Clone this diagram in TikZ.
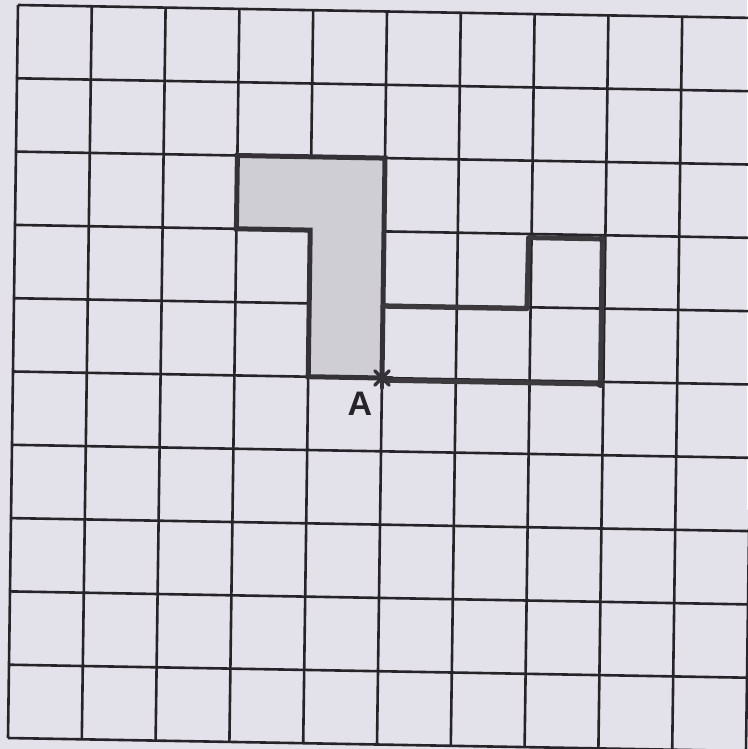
\documentclass[tikz,border=0pt]{standalone}
\usepackage{fontspec}
\setmainfont{Liberation Sans}
\definecolor{paper}{RGB}{227,225,233}
\definecolor{gridc}{RGB}{38,36,40}
\definecolor{lgreyfill}{RGB}{208,206,213}
\definecolor{pen}{RGB}{52,50,54}
\tikzset{
  gridline/.style={draw=gridc, line width=2.6pt},
  thickline/.style={draw=pen, line width=5pt, line join=miter, line cap=rect},
  handline/.style={draw=pen!90!gray, line width=5pt, line join=round, line cap=round},
  lab/.style={font=\bfseries\fontsize{34}{34}\selectfont, text=gridc, inner sep=0pt}
}
\begin{document}
\begin{tikzpicture}
\fill[paper] (0pt,0pt) rectangle (747pt,-749pt);
\useasboundingbox (0pt,0pt) rectangle (747pt,-749pt);
\begin{scope}[shift={(18pt,-5pt)}, x={(73.8pt,-1.3pt)}, y={(-1.0pt,-73.3pt)}]
  % grid
  \foreach \i in {0,...,10} {
    \draw[gridline] (\i,0) -- (\i,10);
    \draw[gridline] (0,\i) -- (10,\i);
  }
  % shaded L
  \fill[fill=lgreyfill] (3,2) -- (5,2) -- (5,5) -- (4,5) -- (4,3) -- (3,3) -- cycle;
  \draw[thickline] (3,2) -- (5,2) -- (5,5) -- (4,5) -- (4,3) -- (3,3) -- cycle;
  % second (open) shape
  \coordinate (p1) at (5,4.02);
  \coordinate (p2) at (6.95,4.02);
  \coordinate (p3) at (6.96,3.05);
  \coordinate (p4) at (7.96,3.05);
  \coordinate (p5) at (7.96,5.03);
  \coordinate (p6) at (5,5.03);
  \draw[handline] (p1) -- (p2) -- (p3) -- (p4) -- (p5) -- (p6);
  \fill[pen] (p5) circle (4pt);
  \draw[pen, line width=1.5pt] (p4) circle (3pt);
  % point A
  \coordinate (A) at (5,5);
  \foreach \a in {0,45,90,135} {
    \draw[pen, line width=3.5pt, line cap=round] ([shift={(\a:10pt)}]A) -- ([shift={(\a+180:10pt)}]A);
  }
  \node[lab] (labA) at ([shift={(-22pt,-26pt)}]A) {A};
\end{scope}
\end{tikzpicture}
\end{document}
